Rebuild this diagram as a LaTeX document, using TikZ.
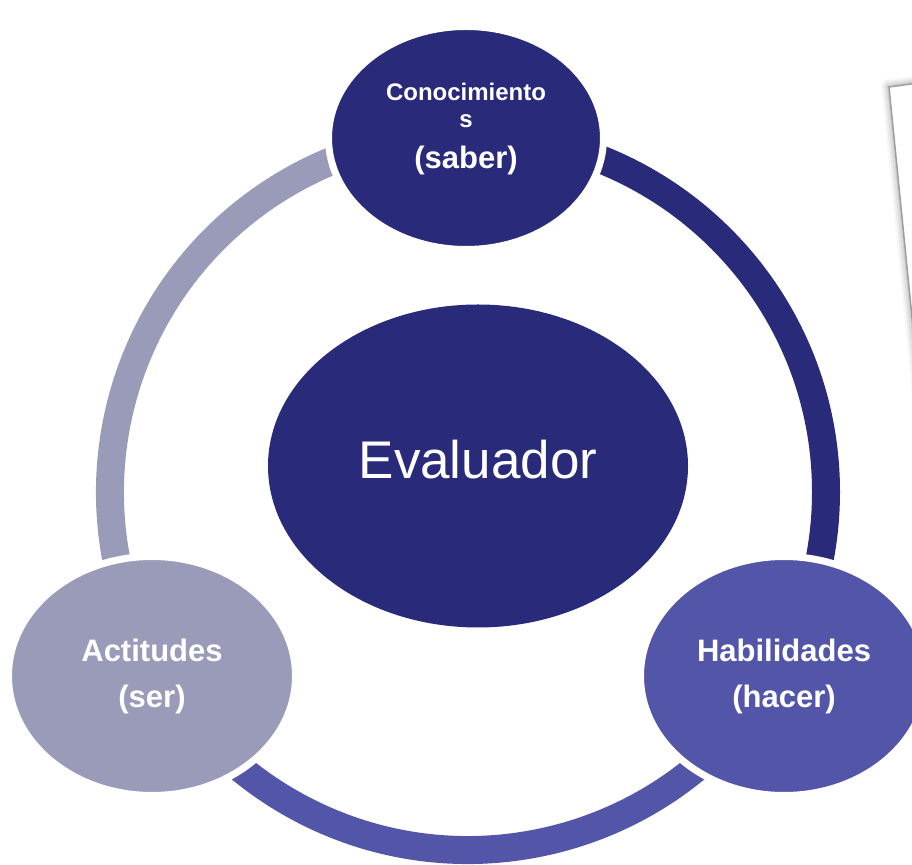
\documentclass[tikz,border=0pt]{standalone}
\usepackage{fontspec}
\setmainfont{Liberation Sans}
\usetikzlibrary{shapes.geometric,shadows.blur}

\definecolor{navy}{HTML}{2A2A7B}
\definecolor{lilac}{HTML}{9A9BB8}
\definecolor{ringviolet}{HTML}{5355A9}

\begin{document}
\begin{tikzpicture}
[x=1pt, y=1pt,
ring/.style={line width=28pt},
bubble/.style={ellipse, inner sep=0pt, draw=white, line width=7pt, text=white, align=center, font=\fontsize{31}{46}\selectfont\bfseries},
lbl/.style={text=white, inner sep=0pt, anchor=base},
sheet/.style={draw=gray!75, line width=1.5pt, fill=white, blur shadow={shadow xshift=-1pt, shadow yshift=1pt, shadow blur radius=7pt}}]

\useasboundingbox (0,0) rectangle (912,864);

% paper sheet top right
\draw[sheet] (889,777) -- (1000,792) -- (1030,480) -- (920,467) -- cycle;

% ring
\coordinate (ringc) at (468,372);
\draw[ring, lilac] ([shift={(210:358)}]ringc) arc[start angle=210, end angle=90, radius=358];
\draw[ring, navy] ([shift={(90:358)}]ringc) arc[start angle=90, end angle=-30, radius=358];
\draw[ring, ringviolet] ([shift={(-30:358)}]ringc) arc[start angle=-30, end angle=-150, radius=358];

\node[bubble, fill=navy, minimum width=275pt, minimum height=223pt] (cono) at (466,726) {};
\node[lbl, font=\fontsize{24}{26}\selectfont\bfseries] (conoa) at (466,763) {Conocimiento};
\node[lbl, font=\fontsize{24}{26}\selectfont\bfseries] (conob) at (466,736) {s};
\node[lbl, font=\fontsize{31}{36}\selectfont\bfseries] (conoc) at (466,695) {(saber)};

\node[bubble, fill=lilac, minimum width=287pt, minimum height=239pt] (acti) at (152,188) {Actitudes\\(ser)};
\node[bubble, fill=ringviolet, minimum width=287pt, minimum height=239pt] (habi) at (784,188) {Habilidades\\(hacer)};

\node[bubble, draw=none, fill=navy, font=\fontsize{53}{60}\selectfont, text depth=14pt, minimum width=420pt, minimum height=323pt] (eval) at (478,398) {Evaluador};
\end{tikzpicture}
\end{document}
